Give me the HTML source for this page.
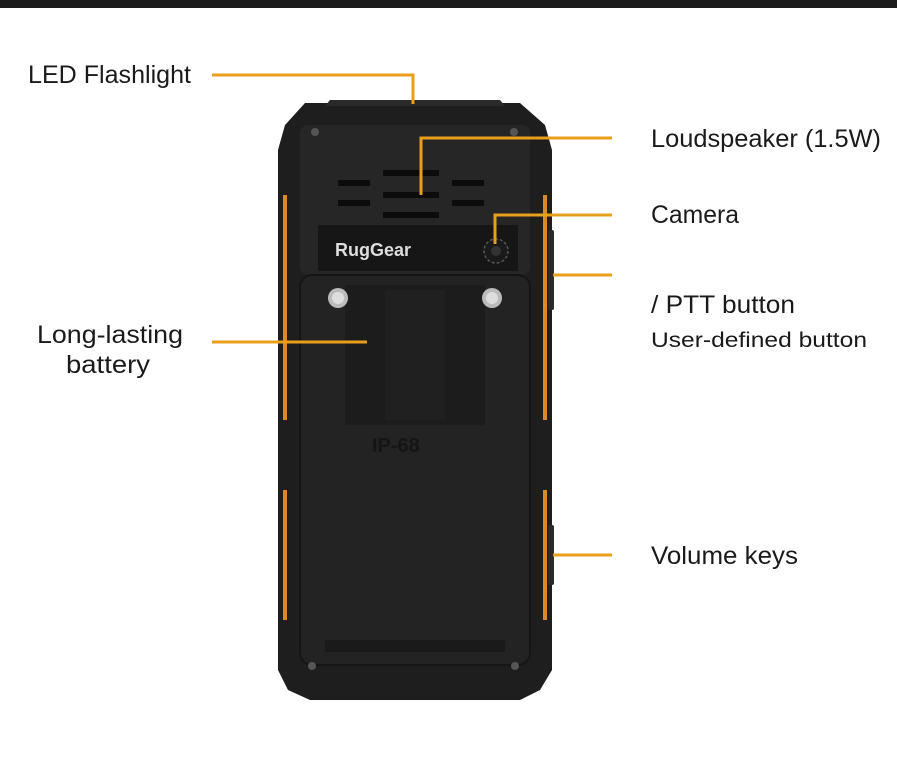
<!DOCTYPE html>
<html><head><meta charset="utf-8"><style>
html,body{margin:0;padding:0;background:#fff;width:897px;height:764px;overflow:hidden}
svg{display:block}
text{font-family:"Liberation Sans Narrow","Liberation Sans",sans-serif;fill:#1a1a1a}
</style></head><body>
<svg width="897" height="764" viewBox="0 0 897 764">
<rect x="0" y="0" width="897" height="8" fill="#1c1c1c"/>
<!-- phone body -->
<path d="M305 103 L520 103 L545 125 L552 150 L552 670 L540 690 L520 700 L310 700 L288 690 L278 670 L278 150 L285 125 Z" fill="#1e1e1e"/>
<path d="M330 100 L500 100 L505 106 L325 106 Z" fill="#2a2a2a"/>
<!-- orange side strips -->
<rect x="283" y="195" width="4" height="225" fill="#d98a2c"/>
<rect x="543" y="195" width="4" height="225" fill="#d98a2c"/>
<rect x="283" y="490" width="4" height="130" fill="#d98a2c"/>
<rect x="543" y="490" width="4" height="130" fill="#d98a2c"/>
<rect x="548" y="230" width="6" height="80" rx="2" fill="#2a2a2a"/>
<rect x="548" y="525" width="6" height="60" rx="2" fill="#2a2a2a"/>
<!-- inner top panel -->
<rect x="300" y="125" width="230" height="150" rx="8" fill="#262626"/>
<rect x="318" y="225" width="200" height="46" fill="#161616"/>
<!-- speaker slots -->
<g fill="#0c0c0c">
<rect x="338" y="180" width="32" height="6"/><rect x="452" y="180" width="32" height="6"/>
<rect x="338" y="200" width="32" height="6"/><rect x="452" y="200" width="32" height="6"/>
<rect x="383" y="170" width="56" height="6"/><rect x="383" y="192" width="56" height="6"/><rect x="383" y="212" width="56" height="6"/>
</g>
<text x="335" y="256" style="font-family:'Liberation Sans',sans-serif;font-weight:bold;font-size:18px;fill:#ddd">RugGear</text>
<circle cx="496" cy="251" r="12" fill="#1a1a1a" stroke="#555" stroke-width="1.5" stroke-dasharray="3 2"/>
<circle cx="496" cy="251" r="5" fill="#333"/>
<!-- battery cover -->
<rect x="300" y="275" width="230" height="390" rx="12" fill="#232323" stroke="#151515" stroke-width="2"/>
<rect x="345" y="285" width="140" height="140" fill="#1c1c1c"/>
<rect x="385" y="290" width="60" height="130" fill="#202020"/>
<circle cx="338" cy="298" r="10" fill="#bbb"/><circle cx="338" cy="298" r="6" fill="#ddd"/>
<circle cx="492" cy="298" r="10" fill="#bbb"/><circle cx="492" cy="298" r="6" fill="#ddd"/>
<text x="372" y="452" style="font-family:'Liberation Sans',sans-serif;font-weight:bold;font-size:20px;fill:#151515">IP-68</text>
<rect x="325" y="640" width="180" height="12" fill="#1a1a1a"/>
<circle cx="315" cy="132" r="4" fill="#555"/><circle cx="514" cy="132" r="4" fill="#555"/>
<circle cx="312" cy="666" r="4" fill="#555"/><circle cx="515" cy="666" r="4" fill="#555"/>
<!-- connectors -->
<g stroke="#e8a01c" stroke-width="3" fill="none">
<polyline points="212,75 413,75 413,104"/>
<polyline points="612,138 421,138 421,195"/>
<polyline points="612,215 495,215 495,244"/>
<line x1="553" y1="275" x2="612" y2="275"/>
<line x1="212" y1="342" x2="367" y2="342"/>
<line x1="553" y1="555" x2="612" y2="555"/>
</g>
<!-- labels -->
<text x="28" y="83" font-size="25" textLength="163" lengthAdjust="spacingAndGlyphs">LED Flashlight</text>
<text x="651" y="147" font-size="25" textLength="230" lengthAdjust="spacingAndGlyphs">Loudspeaker (1.5W)</text>
<text x="651" y="223" font-size="25" textLength="88" lengthAdjust="spacingAndGlyphs">Camera</text>
<text x="651" y="313" font-size="25" textLength="144" lengthAdjust="spacingAndGlyphs">/ PTT button</text>
<text x="651" y="347" font-size="21" textLength="216" lengthAdjust="spacingAndGlyphs">User-defined button</text>
<text x="37" y="343" font-size="25" textLength="146" lengthAdjust="spacingAndGlyphs">Long-lasting</text>
<text x="66" y="373" font-size="25" textLength="84" lengthAdjust="spacingAndGlyphs">battery</text>
<text x="651" y="564" font-size="25" textLength="147" lengthAdjust="spacingAndGlyphs">Volume keys</text>
</svg>
</body></html>
